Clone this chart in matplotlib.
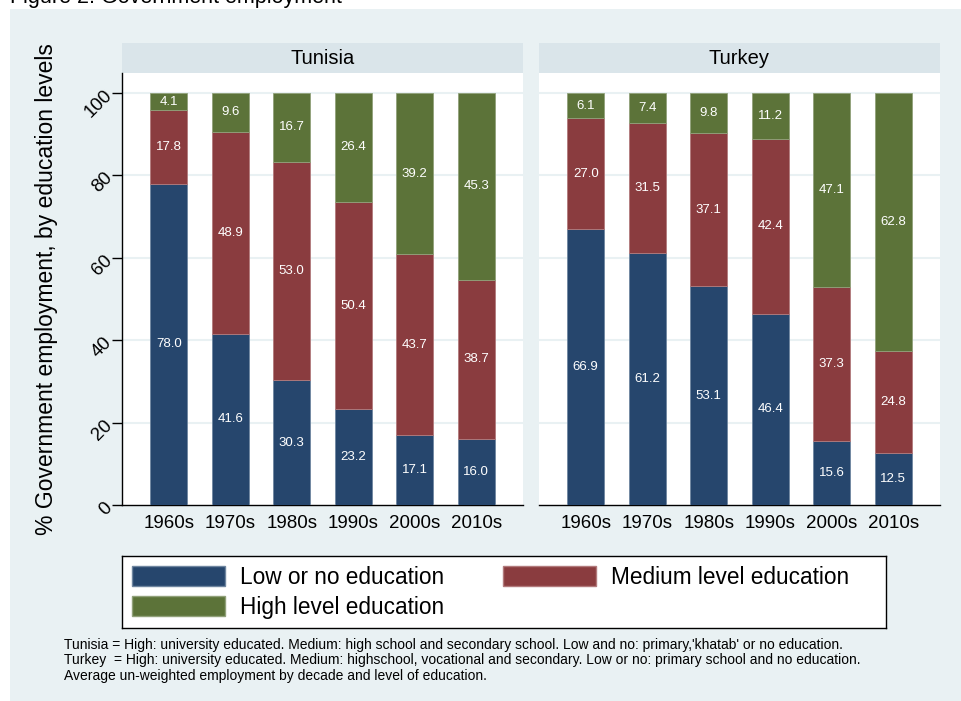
import matplotlib
matplotlib.use("Agg")
import matplotlib.pyplot as plt
from matplotlib.patches import Rectangle, Patch
import numpy as np

plt.rcParams['font.family'] = ['Liberation Sans', 'DejaVu Sans']

decades = ['1960s', '1970s', '1980s', '1990s', '2000s', '2010s']
countries = ['Tunisia', 'Turkey']

tunisia_low = [78.0, 41.6, 30.3, 23.2, 17.1, 16.0]
tunisia_medium = [17.8, 48.9, 53.0, 50.4, 43.7, 38.7]
tunisia_high = [4.1, 9.6, 16.7, 26.4, 39.2, 45.3]

turkey_low = [66.9, 61.2, 53.1, 46.4, 15.6, 12.5]
turkey_medium = [27.0, 31.5, 37.1, 42.4, 37.3, 24.8]
turkey_high = [6.1, 7.4, 9.8, 11.2, 47.1, 62.8]

levels = ['Low or no education', 'Medium level education', 'High level education']
colors = ['#26466d', '#8a3c3f', '#5c7339']
edge_colors = ['#6f86a0', '#b27a7c', '#91a17a']

data = {
    'Tunisia': [tunisia_low, tunisia_medium, tunisia_high],
    'Turkey': [turkey_low, turkey_medium, turkey_high],
}

BG = '#e9f1f3'
STRIP = '#dae5ea'
W, H = 962, 701

fig = plt.figure(figsize=(W / 100, H / 100), dpi=100)
fig.patch.set_facecolor('white')

# stata-like outer region (slightly cropped at top/left)
fig.patches.append(Rectangle((10 / W, 0), (W - 10) / W, (H - 9) / H,
                             transform=fig.transFigure, facecolor=BG,
                             edgecolor='none', zorder=-10))

# title, cut off at the very top like in the source image
fig.text(10 / W, 1 - 3 / H, 'Figure 2. Government employment', fontsize=15.5,
         ha='left', va='baseline', color='black')


def px_rect(x0, y0, x1, y1):
    return [x0 / W, (H - y1) / H, (x1 - x0) / W, (y1 - y0) / H]


panel_x = [(122, 523), (539, 940)]
x = np.arange(len(decades))

for i, country in enumerate(countries):
    x0, x1 = panel_x[i]
    # header strip
    hax = fig.add_axes(px_rect(x0, 43, x1, 73))
    hax.set_facecolor(STRIP)
    hax.set_xticks([])
    hax.set_yticks([])
    for s in hax.spines.values():
        s.set_visible(False)
    hax.text(0.5, 0.5, country, fontsize=14.5, ha='center', va='center',
             transform=hax.transAxes)

    ax = fig.add_axes(px_rect(x0, 73, x1, 505))
    ax.set_facecolor('white')
    bottom = np.zeros(len(decades))
    for j, vals in enumerate(data[country]):
        vals = np.array(vals)
        ax.bar(x, vals, width=0.6, bottom=bottom, color=colors[j],
               edgecolor=edge_colors[j], linewidth=0.6, zorder=3)
        for k in range(len(decades)):
            ax.text(x[k], bottom[k] + vals[k] / 2, f'{vals[k]:.1f}',
                    ha='center', va='center', color='white', fontsize=9.5,
                    zorder=4)
        bottom += vals

    ax.set_xlim(-0.76, 5.76)
    ax.set_ylim(0, 104.85)
    ax.set_yticks([0, 20, 40, 60, 80, 100])
    for yv in [20, 40, 60, 80, 100]:
        ax.axhline(yv, color=BG, linewidth=1.5, zorder=1)
    ax.set_xticks(x)
    ax.set_xticklabels(decades, fontsize=13.5)
    ax.tick_params(axis='x', length=0, pad=7)
    for s in ['top', 'right']:
        ax.spines[s].set_visible(False)
    ax.spines['bottom'].set_linewidth(1.0)
    if i == 0:
        ax.spines['left'].set_linewidth(1.0)
        ax.tick_params(axis='y', length=7, width=1.0, pad=2, labelsize=13.5)
        for lab in ax.get_yticklabels():
            lab.set_rotation(45)
            lab.set_rotation_mode('anchor')
            lab.set_ha('right')
            lab.set_va('center')
    else:
        ax.spines['left'].set_visible(False)
        ax.tick_params(axis='y', length=0, labelleft=False)

fig.text(47 / W, (H - 289) / H, '% Government employment, by education levels',
         rotation=90, fontsize=16.5, ha='center', va='center')

# legend box
lax = fig.add_axes(px_rect(122, 556, 886, 628))
lax.set_facecolor('white')
lax.set_xticks([])
lax.set_yticks([])
for s in lax.spines.values():
    s.set_edgecolor('black')
    s.set_linewidth(1.0)
handles = [Patch(facecolor=colors[0], edgecolor=edge_colors[0], label=levels[0]),
           Patch(facecolor=colors[2], edgecolor=edge_colors[2], label=levels[2]),
           Patch(facecolor=colors[1], edgecolor=edge_colors[1], label=levels[1])]
leg = lax.legend(handles=handles, loc='upper left', ncol=2,
                 bbox_to_anchor=(10 / 764, 1 - 10 / 72), fontsize=16.3,
                 frameon=False, handlelength=4.1, handleheight=1.0,
                 labelspacing=0.3, borderpad=0.0, handletextpad=0.68,
                 columnspacing=2.6, borderaxespad=0)

notes = ("Tunisia = High: university educated. Medium: high school and secondary school. "
         "Low and no: primary,'khatab' or no education.\n"
         "Turkey  = High: university educated. Medium: highschool, vocational and secondary. "
         "Low or no: primary school and no education.\n"
         "Average un-weighted employment by decade and level of education.")
fig.text(64 / W, (H - 638) / H, notes, fontsize=10.0, ha='left', va='top',
         linespacing=1.13)

fig.savefig('out.png', dpi=100, facecolor=fig.get_facecolor())
